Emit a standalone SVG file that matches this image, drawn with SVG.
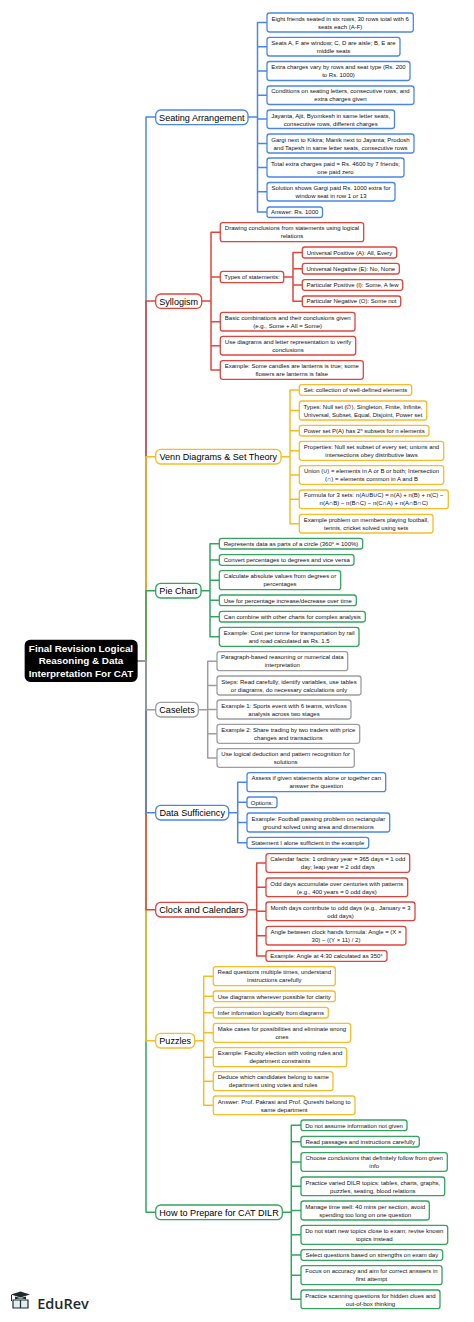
<svg xmlns="http://www.w3.org/2000/svg" width="474" height="1322" viewBox="0 0 474 1322">
<style>
text{font-family:"Liberation Sans",Arial,sans-serif;text-anchor:middle;fill:#111}
.c text{font-size:6px}
.b text{font-size:9.1px;fill:#000}
rect{fill:#fff;stroke-width:1.3}
.c rect{rx:2.5px}
.b rect{rx:5px}
.l{fill:none;stroke-width:1.5;stroke-linejoin:round}
.B rect{stroke:#4a86e8}.R rect{stroke:#e0453c}.Y rect{stroke:#f6bd26}.G rect{stroke:#34a460}.N rect{stroke:#9e9e9e}
.lB{stroke:#4a86e8}.lR{stroke:#e0453c}.lY{stroke:#f6bd26}.lG{stroke:#34a460}.lN{stroke:#9e9e9e}
</style>
<rect width="474" height="1322" style="fill:#fff;stroke:none"/>
<g id="connectors" class="l">
<path class="l lB" d="M137 661H146V117H155.7"/>
<path class="l lR" d="M137 661H146V301H155.7"/>
<path class="l lY" d="M137 661H146V456.7H155.7"/>
<path class="l lG" d="M137 661H146V590.7H155.7"/>
<path class="l lG" d="M137 661H146V1212.3H155.7"/>
<path class="l lY" d="M137 661H146V1040.7H155.7"/>
<path class="l lR" d="M137 661H146V909.7H155.7"/>
<path class="l lB" d="M137 661H146V812.7H155.7"/>
<path class="l lN" d="M137 661H146V709.7H155.7"/>
<path class="l lB" d="M248 117H257.5M267 22.5H257.5V212H267M257.5 46.7H267M257.5 71H267M257.5 95.2H267M257.5 119H267M257.5 143.5H267M257.5 167.5H267M257.5 191.7H267"/>
<path class="l lR" d="M201.7 301H211M220.3 232.2H211V370H220.3M211 277H220.3M211 321.7H220.3M211 345.7H220.3M283.7 277H293M302.3 252.5H293V301.3H302.3M293 268.7H302.3M293 285H302.3"/>
<path class="l lY" d="M281 456.7H290M299.3 390H290V523.7H299.3M290 410.5H299.3M290 430.7H299.3M290 450.8H299.3M290 475H299.3M290 499.3H299.3"/>
<path class="l lG" d="M201 590.7H210M219.3 543.7H210V636.8H219.3M210 560H219.3M210 580.2H219.3M210 600.3H219.3M210 616.7H219.3"/>
<path class="l lN" d="M198.3 709.7H207.7M217 661.2H207.7V758H217M207.7 685.5H217M207.7 709.5H217M207.7 733.8H217"/>
<path class="l lB" d="M228.7 812.7H237.7M247 782.2H237.7V842.8H247M237.7 802.3H247M237.7 822.5H247"/>
<path class="l lR" d="M247.3 909.7H256.7M266 863H256.7V956H266M256.7 887.3H266M256.7 911.3H266M256.7 935.7H266"/>
<path class="l lY" d="M194.7 1040.7H203.7M213.3 976.2H203.7V1105.3H213.3M203.7 996.3H213.3M203.7 1012.7H213.3M203.7 1032.8H213.3M203.7 1057.2H213.3M203.7 1081.2H213.3"/>
<path class="l lG" d="M282.3 1212.3H291.3M301 1125.3H291.3V1299.3H301M291.3 1141.7H301M291.3 1162H301M291.3 1186.3H301M291.3 1210.5H301M291.3 1234.8H301M291.3 1255H301M291.3 1275.2H301"/>
</g>
<g id="root"><rect x="25.3" y="640.3" width="111.7" height="41" rx="5" style="fill:#000;stroke:#000"/>
<g style="font-size:9.9px;font-weight:700"><text x="81" y="651.6" style="fill:#fff">Final Revision Logical</text><text x="81" y="664.4" style="fill:#fff">Reasoning &amp; Data</text><text x="81" y="677.2" style="fill:#fff">Interpretation For CAT</text></g></g>

<g id="n-seating" class="b B"><rect x="155.7" y="110" width="92.3" height="14.7"/><text x="201.8" y="120.5">Seating Arrangement</text></g>
<g id="s1" class="c B"><rect x="267" y="13" width="146.3" height="19"/><text x="340.2" y="20.5">Eight friends seated in six rows, 30 rows total with 6</text><text x="340.2" y="28.5">seats each (A-F)</text></g>
<g id="s2" class="c B"><rect x="267" y="37.3" width="133" height="18.7"/><text x="333.5" y="44.7">Seats A, F are window; C, D are aisle; B, E are</text><text x="333.5" y="52.7">middle seats</text></g>
<g id="s3" class="c B"><rect x="267" y="61.5" width="143" height="19"/><text x="338.5" y="69">Extra charges vary by rows and seat type (Rs. 200</text><text x="338.5" y="77">to Rs. 1000)</text></g>
<g id="s4" class="c B"><rect x="267" y="86" width="147" height="18.5"/><text x="340.5" y="93.2">Conditions on seating letters, consecutive rows, and</text><text x="340.5" y="101.2">extra charges given</text></g>
<g id="s5" class="c B"><rect x="267" y="110" width="127.5" height="18.5"/><text x="330.7" y="117.5">Jayanta, Ajit, Byomkesh in same letter seats,</text><text x="330.7" y="125.5">consecutive rows, different charges</text></g>
<g id="s6" class="c B"><rect x="267" y="134" width="147" height="19"/><text x="340.5" y="141.5">Gargi next to Kikira; Manik next to Jayanta; Prodosh</text><text x="340.5" y="149.5">and Tapesh in same letter seats, consecutive rows</text></g>
<g id="s7" class="c B"><rect x="267" y="158" width="137" height="19"/><text x="335.5" y="165.7">Total extra charges paid = Rs. 4600 by 7 friends;</text><text x="335.5" y="173.7">one paid zero</text></g>
<g id="s8" class="c B"><rect x="267" y="182.5" width="128" height="18.5"/><text x="331" y="189.7">Solution shows Gargi paid Rs. 1000 extra for</text><text x="331" y="197.7">window seat in row 1 or 13</text></g>
<g id="s9" class="c B"><rect x="267" y="207" width="55.5" height="10.5"/><text x="294.7" y="214">Answer: Rs. 1000</text></g>

<g id="n-syllogism" class="b R"><rect x="155.7" y="294" width="46" height="14.3"/><text x="178.7" y="304.5">Syllogism</text></g>
<g id="y1" class="c R"><rect x="220.3" y="222.7" width="143.4" height="19"/><text x="292" y="230.2">Drawing conclusions from statements using logical</text><text x="292" y="238.2">relations</text></g>
<g id="y2" class="c R"><rect x="220.3" y="271.3" width="63.4" height="11.4"/><text x="252" y="279">Types of statements:</text></g>
<g id="y2a" class="c R"><rect x="302.3" y="247" width="94.4" height="11"/><text x="349.5" y="254.5">Universal Positive (A): All, Every</text></g>
<g id="y2b" class="c R"><rect x="302.3" y="263.3" width="97" height="10.7"/><text x="350.8" y="270.8">Universal Negative (E): No, None</text></g>
<g id="y2c" class="c R"><rect x="302.3" y="279.7" width="100.4" height="10.6"/><text x="352.5" y="287">Particular Positive (I): Some, A few</text></g>
<g id="y2d" class="c R"><rect x="302.3" y="296" width="98.4" height="10.7"/><text x="351.5" y="303.4">Particular Negative (O): Some not</text></g>
<g id="y3" class="c R"><rect x="220.3" y="312.3" width="134.7" height="18.7"/><text x="287.7" y="319.7">Basic combinations and their conclusions given</text><text x="287.7" y="327.7">(e.g., Some + All = Some)</text></g>
<g id="y4" class="c R"><rect x="220.3" y="336.3" width="135.4" height="18.7"/><text x="288" y="343.8">Use diagrams and letter representation to verify</text><text x="288" y="351.8">conclusions</text></g>
<g id="y5" class="c R"><rect x="220.3" y="360.7" width="143" height="18.6"/><text x="291.8" y="368">Example: Some candles are lanterns is true; some</text><text x="291.8" y="376">flowers are lanterns is false</text></g>

<g id="n-venn" class="b Y"><rect x="155.7" y="449.3" width="125.3" height="14.7"/><text x="218.3" y="460">Venn Diagrams &amp; Set Theory</text></g>
<g id="v1" class="c Y"><rect x="299.3" y="384.7" width="112.4" height="10.6"/><text x="355.5" y="392.2">Set: collection of well-defined elements</text></g>
<g id="v2" class="c Y"><rect x="299.3" y="401" width="127.4" height="19"/><text x="363" y="408.5">Types: Null set (∅), Singleton, Finite, Infinite,</text><text x="363" y="416.5">Universal, Subset, Equal, Disjoint, Power set</text></g>
<g id="v3" class="c Y"><rect x="299.3" y="425.3" width="129.7" height="10.7"/><text x="364.2" y="432.7">Power set P(A) has 2ⁿ subsets for n elements</text></g>
<g id="v4" class="c Y"><rect x="299.3" y="441.3" width="144.4" height="19"/><text x="371.5" y="448.8">Properties: Null set subset of every set; unions and</text><text x="371.5" y="456.8">intersections obey distributive laws</text></g>
<g id="v5" class="c Y"><rect x="299.3" y="465.7" width="144.4" height="18.6"/><text x="371.5" y="473.2">Union (∪) = elements in A or B or both; Intersection</text><text x="371.5" y="481.2">(∩) = elements common in A and B</text></g>
<g id="v6" class="c Y"><rect x="299.3" y="490" width="149" height="18.7"/><text x="373.8" y="497.4">Formula for 3 sets: n(A∪B∪C) = n(A) + n(B) + n(C) −</text><text x="373.8" y="505.4">n(A∩B) − n(B∩C) − n(C∩A) + n(A∩B∩C)</text></g>
<g id="v7" class="c Y"><rect x="299.3" y="514.3" width="133.7" height="18.7"/><text x="366.2" y="521.8">Example problem on members playing football,</text><text x="366.2" y="529.8">tennis, cricket solved using sets</text></g>

<g id="n-pie" class="b G"><rect x="155.7" y="583.3" width="45.3" height="14.7"/><text x="178.3" y="594">Pie Chart</text></g>
<g id="p1" class="c G"><rect x="219.3" y="538.3" width="143.4" height="10.7"/><text x="291" y="545.8">Represents data as parts of a circle (360° = 100%)</text></g>
<g id="p2" class="c G"><rect x="219.3" y="554.7" width="134.7" height="10.6"/><text x="286.7" y="562.2">Convert percentages to degrees and vice versa</text></g>
<g id="p3" class="c G"><rect x="219.3" y="570.7" width="121.4" height="19"/><text x="280" y="578.3">Calculate absolute values from degrees or</text><text x="280" y="586.3">percentages</text></g>
<g id="p4" class="c G"><rect x="219.3" y="595" width="137" height="10.7"/><text x="287.8" y="602.5">Use for percentage increase/decrease over time</text></g>
<g id="p5" class="c G"><rect x="219.3" y="611.3" width="146" height="10.7"/><text x="292.3" y="618.8">Can combine with other charts for complex analysis</text></g>
<g id="p6" class="c G"><rect x="219.3" y="627.3" width="139.7" height="19"/><text x="289.2" y="635">Example: Cost per tonne for transportation by rail</text><text x="289.2" y="643">and road calculated as Rs. 1.5</text></g>

<g id="n-caselets" class="b N"><rect x="155.7" y="702.3" width="42.6" height="14.7"/><text x="177" y="713">Caselets</text></g>
<g id="k1" class="c N"><rect x="217" y="651.7" width="130.7" height="19"/><text x="282.3" y="659.2">Paragraph-based reasoning or numerical data</text><text x="282.3" y="667.2">interpretation</text></g>
<g id="k2" class="c N"><rect x="217" y="676" width="144" height="19"/><text x="289" y="683.5">Steps: Read carefully, identify variables, use tables</text><text x="289" y="691.5">or diagrams, do necessary calculations only</text></g>
<g id="k3" class="c N"><rect x="217" y="700" width="134" height="19"/><text x="284" y="707.5">Example 1: Sports event with 6 teams, win/loss</text><text x="284" y="715.5">analysis across two stages</text></g>
<g id="k4" class="c N"><rect x="217" y="724.3" width="142.7" height="19"/><text x="288.3" y="731.8">Example 2: Share trading by two traders with price</text><text x="288.3" y="739.8">changes and transactions</text></g>
<g id="k5" class="c N"><rect x="217" y="748.7" width="137.3" height="18.6"/><text x="285.7" y="756">Use logical deduction and pattern recognition for</text><text x="285.7" y="764">solutions</text></g>

<g id="n-ds" class="b B"><rect x="155.7" y="805.3" width="73" height="14.7"/><text x="192.2" y="816">Data Sufficiency</text></g>
<g id="d1" class="c B"><rect x="247" y="772.7" width="138.7" height="19"/><text x="316.3" y="780.2">Assess if given statements alone or together can</text><text x="316.3" y="788.2">answer the question</text></g>
<g id="d2" class="c B"><rect x="247" y="797" width="30" height="10.7"/><text x="262" y="804.5">Options:</text></g>
<g id="d3" class="c B"><rect x="247" y="813" width="142.7" height="19"/><text x="318.3" y="820.5">Example: Football passing problem on rectangular</text><text x="318.3" y="828.5">ground solved using area and dimensions</text></g>
<g id="d4" class="c B"><rect x="247" y="837.3" width="121.7" height="11"/><text x="307.8" y="845">Statement I alone sufficient in the example</text></g>

<g id="n-clock" class="b R"><rect x="155.7" y="902.3" width="91.6" height="14.7"/><text x="201.5" y="913">Clock and Calendars</text></g>
<g id="o1" class="c R"><rect x="266" y="853.7" width="143.7" height="18.6"/><text x="337.8" y="861">Calendar facts: 1 ordinary year = 365 days = 1 odd</text><text x="337.8" y="869">day; leap year = 2 odd days</text></g>
<g id="o2" class="c R"><rect x="266" y="878" width="141.7" height="18.7"/><text x="336.8" y="885.5">Odd days accumulate over centuries with patterns</text><text x="336.8" y="893.5">(e.g., 400 years = 0 odd days)</text></g>
<g id="o3" class="c R"><rect x="266" y="902" width="149" height="18.7"/><text x="340.5" y="909.5">Month days contribute to odd days (e.g., January = 3</text><text x="340.5" y="917.5">odd days)</text></g>
<g id="o4" class="c R"><rect x="266" y="926.3" width="140" height="18.7"/><text x="336" y="933.7">Angle between clock hands formula: Angle = (X ×</text><text x="336" y="941.7">30) − ((Y × 11) / 2)</text></g>
<g id="o5" class="c R"><rect x="266" y="950.7" width="121" height="10.6"/><text x="326.5" y="958">Example: Angle at 4:30 calculated as 350°</text></g>

<g id="n-puzzles" class="b Y"><rect x="155.7" y="1033.3" width="39" height="14.7"/><text x="175.2" y="1044">Puzzles</text></g>
<g id="u1" class="c Y"><rect x="213.3" y="966.7" width="122" height="19"/><text x="274.3" y="974.2">Read questions multiple times, understand</text><text x="274.3" y="982.2">instructions carefully</text></g>
<g id="u2" class="c Y"><rect x="213.3" y="991" width="122" height="10.7"/><text x="274.3" y="998.5">Use diagrams wherever possible for clarity</text></g>
<g id="u3" class="c Y"><rect x="213.3" y="1007.3" width="115" height="10.7"/><text x="270.8" y="1014.8">Infer information logically from diagrams</text></g>
<g id="u4" class="c Y"><rect x="213.3" y="1023.3" width="137.4" height="19"/><text x="282" y="1031">Make cases for possibilities and eliminate wrong</text><text x="282" y="1039">ones</text></g>
<g id="u5" class="c Y"><rect x="213.3" y="1047.7" width="133.4" height="19"/><text x="280" y="1055.2">Example: Faculty election with voting rules and</text><text x="280" y="1063.2">department constraints</text></g>
<g id="u6" class="c Y"><rect x="213.3" y="1071.7" width="119.7" height="19"/><text x="273.2" y="1079.3">Deduce which candidates belong to same</text><text x="273.2" y="1087.3">department using votes and rules</text></g>
<g id="u7" class="c Y"><rect x="213.3" y="1096" width="141.7" height="18.7"/><text x="284.2" y="1103.5">Answer: Prof. Pakrasi and Prof. Qureshi belong to</text><text x="284.2" y="1111.5">same department</text></g>

<g id="n-prep" class="b G"><rect x="155.7" y="1205" width="126.6" height="14.7"/><text x="219" y="1215.7">How to Prepare for CAT DILR</text></g>
<g id="h1" class="c G"><rect x="301" y="1120" width="106" height="10.7"/><text x="354" y="1127.5">Do not assume information not given</text></g>
<g id="h2" class="c G"><rect x="301" y="1136.3" width="118.3" height="10.7"/><text x="360.2" y="1143.8">Read passages and instructions carefully</text></g>
<g id="h3" class="c G"><rect x="301" y="1152.7" width="146.3" height="18.6"/><text x="374.2" y="1160.2">Choose conclusions that definitely follow from given</text><text x="374.2" y="1168.2">info</text></g>
<g id="h4" class="c G"><rect x="301" y="1177" width="143.7" height="18.7"/><text x="372.8" y="1184.5">Practice varied DILR topics: tables, charts, graphs,</text><text x="372.8" y="1192.5">puzzles, seating, blood relations</text></g>
<g id="h5" class="c G"><rect x="301" y="1201" width="128.3" height="19"/><text x="365.2" y="1208.5">Manage time well: 40 mins per section, avoid</text><text x="365.2" y="1216.5">spending too long on one question</text></g>
<g id="h6" class="c G"><rect x="301" y="1225.3" width="146.7" height="19"/><text x="374.3" y="1232.8">Do not start new topics close to exam; revise known</text><text x="374.3" y="1240.8">topics instead</text></g>
<g id="h7" class="c G"><rect x="301" y="1249.7" width="141.7" height="10.6"/><text x="371.8" y="1257.2">Select questions based on strengths on exam day</text></g>
<g id="h8" class="c G"><rect x="301" y="1265.7" width="141" height="19"/><text x="371.5" y="1273.2">Focus on accuracy and aim for correct answers in</text><text x="371.5" y="1281.2">first attempt</text></g>
<g id="h9" class="c G"><rect x="301" y="1290" width="139" height="18.7"/><text x="370.5" y="1297.5">Practice scanning questions for hidden clues and</text><text x="370.5" y="1305.5">out-of-box thinking</text></g>

<g id="logo">
<path d="M11 1294.5L20.5 1291.5L30 1294.5L20.5 1297.5Z" style="fill:#1f2a2e"/>
<path d="M15 1296.5V1299.5Q20.5 1297.5 26 1299.5V1296.5L20.5 1298Z" style="fill:#1f2a2e"/>
<path d="M13 1300H20.5V1308H13ZM20.5 1300H28V1308H20.5Z" style="fill:#dfeef2;stroke:#1f2a2e;stroke-width:1.2"/>
<path d="M11.5 1295V1301" style="fill:none;stroke:#1f2a2e;stroke-width:1"/>
<text x="63" y="1309" style="font-family:'Open Sans','Liberation Sans',sans-serif;font-size:14.5px;font-weight:600;fill:#1f2a2e">EduRev</text>
</g>
</svg>
